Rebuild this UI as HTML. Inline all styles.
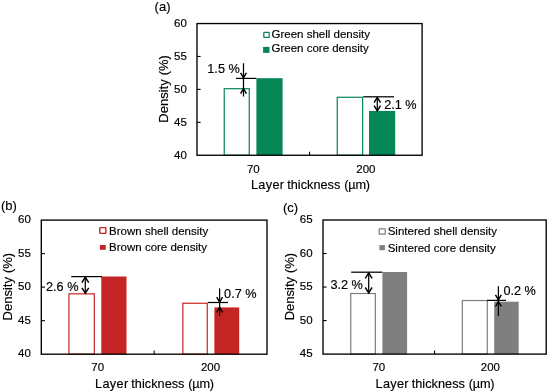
<!DOCTYPE html>
<html><head><meta charset="utf-8"><title>Density</title>
<style>
html,body{margin:0;padding:0;background:#fff;}
svg{display:block;will-change:transform;}
text{font-family:"Liberation Sans",sans-serif;fill:#000;font-kerning:none;stroke:#000;stroke-width:0.16px;}
.t{font-size:11.5px;}
.a{font-size:12.7px;}
.p{font-size:13px;}
.ya{font-size:13px;word-spacing:0.3px;}
.n{font-size:12.7px;}
</style></head>
<body>
<svg width="550" height="392" viewBox="0 0 550 392">
<rect width="550" height="392" fill="#fff"/>
<rect x="224.25" y="88.68" width="25.00" height="66.57" fill="#fff" stroke="#048755" stroke-width="1.2"/>
<rect x="256.40" y="78.20" width="26.20" height="77.05" fill="#048755"/>
<rect x="337.25" y="97.28" width="25.40" height="57.97" fill="#fff" stroke="#048755" stroke-width="1.2"/>
<rect x="369.00" y="110.95" width="26.20" height="44.30" fill="#048755"/>
<rect x="197.00" y="23.55" width="225.10" height="131.70" fill="none" stroke="#000" stroke-width="1.35"/>
<text x="186.80" y="158.95" text-anchor="end" class="t">40</text>
<line x1="197.00" y1="122.33" x2="200.60" y2="122.33" stroke="#000" stroke-width="1.1"/>
<text x="186.80" y="126.03" text-anchor="end" class="t">45</text>
<line x1="197.00" y1="89.40" x2="200.60" y2="89.40" stroke="#000" stroke-width="1.1"/>
<text x="186.80" y="93.10" text-anchor="end" class="t">50</text>
<line x1="197.00" y1="56.48" x2="200.60" y2="56.48" stroke="#000" stroke-width="1.1"/>
<text x="186.80" y="60.18" text-anchor="end" class="t">55</text>
<text x="186.80" y="27.25" text-anchor="end" class="t">60</text>
<line x1="309.55" y1="155.25" x2="309.55" y2="151.65" stroke="#000" stroke-width="1.1"/>
<text x="253.28" y="173.15" text-anchor="middle" class="t">70</text>
<text x="365.83" y="173.15" text-anchor="middle" class="t">200</text>
<text y="189.35" class="a"><tspan x="250.95" letter-spacing="0.33">Layer</tspan><tspan x="287.15" letter-spacing="0.04">thickness</tspan><tspan x="344.25" letter-spacing="-0.2">(µm)</tspan></text>
<text transform="translate(167.50,88.90) rotate(-90)" text-anchor="middle" class="ya">Density (%)</text>
<text x="154.6" y="11.4" class="p">(a)</text>
<rect x="263.82" y="32.33" width="5.35" height="5.05" rx="0.3" fill="#fff" stroke="#048755" stroke-width="1.25"/>
<text x="271.50" y="38.20" class="t">Green shell density</text>
<rect x="263.10" y="46.90" width="6.40" height="6.00" fill="#048755"/>
<text x="271.50" y="52.40" class="t">Green core density</text>
<line x1="236" y1="78.4" x2="256.3" y2="78.4" stroke="#000" stroke-width="1.25"/>
<path d="M243.5 63.3 V96.5" fill="none" stroke="#000" stroke-width="1.25"/><path d="M240.6 72.8 L243.5 77.8 L246.4 72.8 M240.6 93.6 L243.5 88.6 L246.4 93.6" fill="none" stroke="#000" stroke-width="1.45" stroke-linejoin="miter"/>
<text x="207.3" y="73.3" class="n">1.5 %</text>
<line x1="363.3" y1="96.8" x2="394" y2="96.8" stroke="#000" stroke-width="1.25"/>
<path d="M377.3 97.4 V110.8" fill="none" stroke="#000" stroke-width="1.25"/><path d="M374.1 102.60000000000001 L377.3 97.4 L380.5 102.60000000000001 M374.1 105.6 L377.3 110.8 L380.5 105.6" fill="none" stroke="#000" stroke-width="1.45" stroke-linejoin="miter"/>
<text x="384.2" y="109.2" class="n">2.1 %</text>
<rect x="68.95" y="293.84" width="25.40" height="60.36" fill="#fff" stroke="#c42524" stroke-width="1.2"/>
<rect x="101.30" y="276.50" width="25.20" height="77.70" fill="#c42524"/>
<rect x="182.85" y="303.24" width="24.40" height="50.96" fill="#fff" stroke="#c42524" stroke-width="1.2"/>
<rect x="214.40" y="307.40" width="24.80" height="46.80" fill="#c42524"/>
<rect x="41.30" y="220.10" width="225.70" height="134.10" fill="none" stroke="#000" stroke-width="1.35"/>
<text x="30.90" y="357.20" text-anchor="end" class="t">40</text>
<line x1="41.30" y1="320.68" x2="44.90" y2="320.68" stroke="#000" stroke-width="1.1"/>
<text x="30.90" y="323.68" text-anchor="end" class="t">45</text>
<line x1="41.30" y1="287.15" x2="44.90" y2="287.15" stroke="#000" stroke-width="1.1"/>
<text x="30.90" y="290.15" text-anchor="end" class="t">50</text>
<line x1="41.30" y1="253.62" x2="44.90" y2="253.62" stroke="#000" stroke-width="1.1"/>
<text x="30.90" y="256.62" text-anchor="end" class="t">55</text>
<text x="30.90" y="223.10" text-anchor="end" class="t">60</text>
<line x1="154.15" y1="354.20" x2="154.15" y2="350.60" stroke="#000" stroke-width="1.1"/>
<text x="97.72" y="371.40" text-anchor="middle" class="t">70</text>
<text x="210.57" y="371.40" text-anchor="middle" class="t">200</text>
<text y="387.90" class="a"><tspan x="95.05" letter-spacing="0.33">Layer</tspan><tspan x="131.25" letter-spacing="0.04">thickness</tspan><tspan x="188.35" letter-spacing="-0.2">(µm)</tspan></text>
<text transform="translate(11.80,286.65) rotate(-90)" text-anchor="middle" class="ya">Density (%)</text>
<text x="1.0" y="210.4" class="p">(b)</text>
<rect x="99.80" y="227.60" width="6.00" height="5.80" rx="0.3" fill="#fff" stroke="#c42524" stroke-width="1.4"/>
<text x="109.10" y="234.70" class="t">Brown shell density</text>
<rect x="99.90" y="245.00" width="5.90" height="4.80" fill="#c42524"/>
<text x="109.10" y="250.80" class="t">Brown core density</text>
<line x1="71.2" y1="276.6" x2="102" y2="276.6" stroke="#000" stroke-width="1.25"/>
<path d="M85.3 277.2 V293.2" fill="none" stroke="#000" stroke-width="1.25"/><path d="M81.89999999999999 282.59999999999997 L85.3 277.2 L88.7 282.59999999999997 M81.89999999999999 287.8 L85.3 293.2 L88.7 287.8" fill="none" stroke="#000" stroke-width="1.45" stroke-linejoin="miter"/>
<text x="46.0" y="290.9" class="n">2.6 %</text>
<line x1="207.8" y1="302.5" x2="228" y2="302.5" stroke="#000" stroke-width="1.25"/>
<path d="M219.6 288.4 V315.8" fill="none" stroke="#000" stroke-width="1.25"/><path d="M216.7 297.1 L219.6 302.1 L222.5 297.1 M216.7 312.3 L219.6 307.3 L222.5 312.3" fill="none" stroke="#000" stroke-width="1.45" stroke-linejoin="miter"/>
<text x="224.1" y="298.3" class="n">0.7 %</text>
<rect x="350.75" y="293.51" width="24.60" height="60.59" fill="#fff" stroke="#7f7f7f" stroke-width="1.2"/>
<rect x="382.40" y="272.00" width="24.70" height="82.10" fill="#7f7f7f"/>
<rect x="462.35" y="300.55" width="24.90" height="53.55" fill="#fff" stroke="#7f7f7f" stroke-width="1.2"/>
<rect x="494.20" y="301.69" width="24.50" height="52.41" fill="#7f7f7f"/>
<rect x="323.00" y="220.00" width="223.20" height="134.10" fill="none" stroke="#000" stroke-width="1.35"/>
<text x="312.60" y="357.40" text-anchor="end" class="t">45</text>
<line x1="323.00" y1="320.58" x2="326.60" y2="320.58" stroke="#000" stroke-width="1.1"/>
<text x="312.60" y="323.88" text-anchor="end" class="t">50</text>
<line x1="323.00" y1="287.05" x2="326.60" y2="287.05" stroke="#000" stroke-width="1.1"/>
<text x="312.60" y="290.35" text-anchor="end" class="t">55</text>
<line x1="323.00" y1="253.53" x2="326.60" y2="253.53" stroke="#000" stroke-width="1.1"/>
<text x="312.60" y="256.82" text-anchor="end" class="t">60</text>
<text x="312.60" y="223.30" text-anchor="end" class="t">65</text>
<line x1="434.60" y1="354.10" x2="434.60" y2="350.50" stroke="#000" stroke-width="1.1"/>
<text x="378.80" y="371.40" text-anchor="middle" class="t">70</text>
<text x="490.40" y="371.40" text-anchor="middle" class="t">200</text>
<text y="387.90" class="a"><tspan x="375.50" letter-spacing="0.33">Layer</tspan><tspan x="411.70" letter-spacing="0.04">thickness</tspan><tspan x="468.80" letter-spacing="-0.2">(µm)</tspan></text>
<text transform="translate(293.50,286.55) rotate(-90)" text-anchor="middle" class="ya">Density (%)</text>
<text x="283.0" y="212.2" class="p">(c)</text>
<rect x="379.20" y="228.90" width="6.05" height="5.20" rx="0.3" fill="#fff" stroke="#7f7f7f" stroke-width="1.2"/>
<text x="387.70" y="235.10" class="t">Sintered shell density</text>
<rect x="379.40" y="245.10" width="5.50" height="5.10" fill="#7f7f7f"/>
<text x="387.70" y="251.60" class="t">Sintered core density</text>
<line x1="351.2" y1="272.2" x2="382.3" y2="272.2" stroke="#000" stroke-width="1.25"/>
<path d="M368.7 272.9 V292.9" fill="none" stroke="#000" stroke-width="1.25"/><path d="M365.3 278.29999999999995 L368.7 272.9 L372.09999999999997 278.29999999999995 M365.3 287.5 L368.7 292.9 L372.09999999999997 287.5" fill="none" stroke="#000" stroke-width="1.45" stroke-linejoin="miter"/>
<text x="330.4" y="288.5" class="n">3.2 %</text>
<line x1="487" y1="300.4" x2="506" y2="300.4" stroke="#000" stroke-width="1.25"/>
<path d="M498.4 286.2 V316.1" fill="none" stroke="#000" stroke-width="1.25"/><path d="M495.5 294.9 L498.4 299.9 L501.29999999999995 294.9 M495.5 306.5 L498.4 301.5 L501.29999999999995 306.5" fill="none" stroke="#000" stroke-width="1.45" stroke-linejoin="miter"/>
<text x="503.4" y="294.8" class="n">0.2 %</text>
</svg>
</body></html>
